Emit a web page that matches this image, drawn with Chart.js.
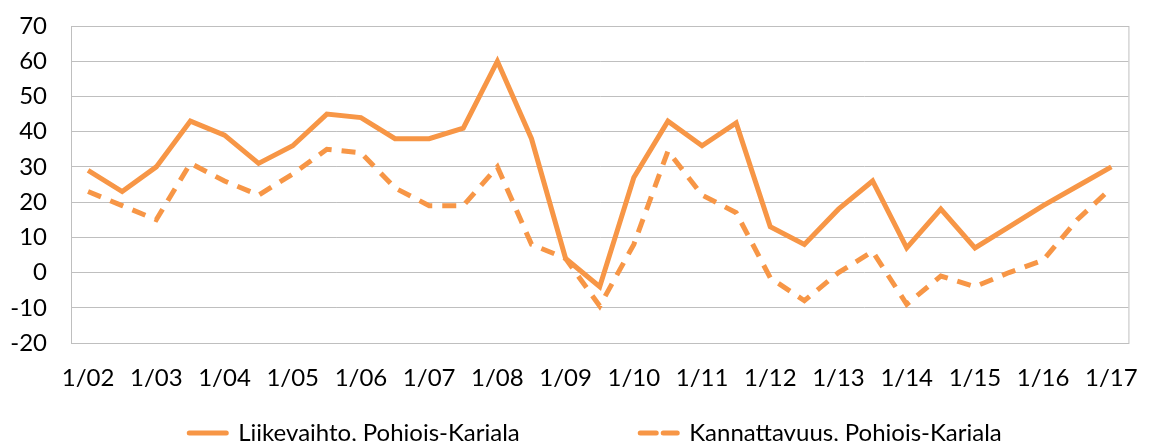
<!DOCTYPE html>
<html>
<head>
<meta charset="utf-8">
<script src="https://cdn.jsdelivr.net/npm/chart.js@4.4.0/dist/chart.umd.min.js"></script>
<style>
  html, body { margin: 0; padding: 0; background: #fff; overflow: hidden; }
  #wrap { width: 1151px; height: 455px; }
</style>
</head>
<body>
<div id="wrap"><canvas id="myChart"></canvas></div>
<script>
// half-year points, only January gets a label
const labels = ['1/02','','1/03','','1/04','','1/05','','1/06','','1/07','','1/08','','1/09','',
                '1/10','','1/11','','1/12','','1/13','','1/14','','1/15','','1/16','','1/17'];
const liikevaihto = [29, 23, 30, 43, 39, 31, 36, 45, 44, 38, 38, 41, 60, 38, 4, -4,
                     27, 43, 36, 42.5, 13, 8, 18, 26, 7, 18, 7, 13, 19, 24.5, 30];
const kannattavuus = [23, 19, 15, 31, 26, 22, 28, 35, 34, 24, 19, 19, 30, 8, 4, -9.5,
                      8, 34.5, 22, 17, -1.5, -8, 0, 6, -9, -1, -4, 0, 3.5, 15, 24];
const yTicks = [-20, -10, 0, 10, 20, 30, 40, 50, 60, 70];

const orange = '#F79646';
const gridGrey = '#BFBFBF';
const font = { family: 'Lato', size: 24 };

// box round the plot area (top and right edges)
const frame = {
  id: 'frame',
  afterDraw(chart) {
    const a = chart.chartArea, c = chart.ctx;
    c.save();
    c.strokeStyle = gridGrey;
    c.lineWidth = 1;
    c.strokeRect(a.left + 0.5, a.top + 0.5, a.right - a.left, a.bottom - a.top);
    c.restore();
  }
};

// legend sits a bit right of the canvas centre in the original
const legendShift = {
  id: 'legendShift',
  afterLayout(chart) {
    chart.legend.left += 30;
    chart.legend.right += 30;
  }
};

let ctx = document.getElementById('myChart').getContext('2d');
let lineChart = new Chart(ctx, {
  type: 'line',
  data: {
    labels: labels,
    datasets: [{
      label: 'Liikevaihto, Pohjois-Karjala',
      data: liikevaihto,
      borderColor: orange,
      backgroundColor: orange,
      borderWidth: 5,
      pointRadius: 0,
      tension: 0,
      pointStyle: 'line'
    }, {
      label: 'Kannattavuus, Pohjois-Karjala',
      data: kannattavuus,
      borderColor: orange,
      backgroundColor: orange,
      borderWidth: 5,
      borderDash: [14, 10],
      pointRadius: 0,
      tension: 0,
      pointStyle: 'line'
    }]
  },
  options: {
    responsive: true,
    maintainAspectRatio: false,
    animation: false,
    layout: { autoPadding: false, padding: { top: 26, right: 20, left: 0, bottom: 0 } },
    plugins: {
      tooltip: { enabled: false },
      legend: {
        position: 'bottom',
        labels: {
          usePointStyle: true,
          pointStyleWidth: 37,
          padding: 16,
          color: '#000',
          font: font,
          generateLabels(chart) {
            const items = Chart.defaults.plugins.legend.labels.generateLabels(chart);
            items.forEach((it, i) => {
              it.lineDash = i === 1 ? [16, 7] : [];
              it.lineCap = 'round';
              // wider gap between the two entries
              if (i === 0) it.text = it.text + '\u00a0'.repeat(17);
            });
            return items;
          }
        }
      }
    },
    scales: {
      x: {
        offset: true,
        afterFit: (s) => { s.height = 62; },
        grid: { display: false },
        border: { color: gridGrey },
        ticks: {
          autoSkip: false,
          maxRotation: 0,
          padding: 13,
          color: '#000',
          font: font
        }
      },
      y: {
        min: -20,
        max: 70,
        // fixed axis width; tick padding should not push the plot down
        afterFit: (s) => { s.width = 71; s.paddingTop = 0; s.paddingBottom = 0; },
        afterBuildTicks: (s) => { s.ticks = yTicks.map(v => ({ value: v })); },
        grid: { color: gridGrey, drawTicks: false },
        border: { color: gridGrey },
        ticks: {
          autoSkip: false,
          padding: 24,
          color: '#000',
          font: font
        }
      }
    }
  },
  plugins: [frame, legendShift]
});
</script>
</body>
</html>
